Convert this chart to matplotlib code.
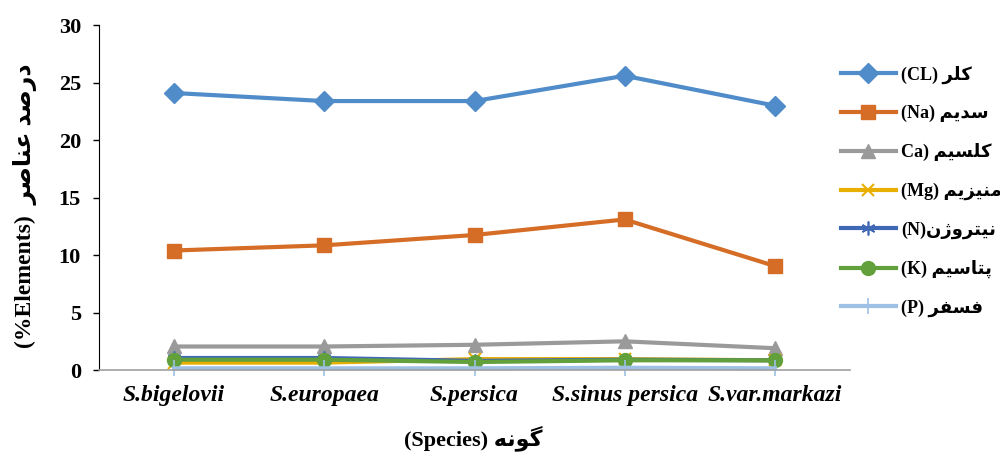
import numpy as np
import matplotlib
matplotlib.use('Agg')
import matplotlib.pyplot as plt

# data
species = ['S.bigelovii', 'S.europaea', 'S.persica', 'S.sinus persica', 'S.var.markazi']
cl = [24.1, 23.4, 23.4, 25.6, 23.0]
na = [10.4, 10.85, 11.75, 13.1, 9.05]
ca = [2.05, 2.05, 2.2, 2.5, 1.9]
mg = [0.65, 0.65, 0.95, 0.95, 0.85]
n = [1.05, 1.05, 0.8, 0.9, 0.85]
k = [0.9, 0.9, 0.7, 0.85, 0.85]
p = [0.15, 0.15, 0.15, 0.2, 0.15]

# minimal Persian shaping (matplotlib does no bidi/joining)
FORMS = {
    'ا': ('\uFE8D', '\uFE8E', None, None),
    'د': ('\uFEA9', '\uFEAA', None, None),
    'ر': ('\uFEAD', '\uFEAE', None, None),
    'ز': ('\uFEAF', '\uFEB0', None, None),
    'ژ': ('\uFB8A', '\uFB8B', None, None),
    'و': ('\uFEED', '\uFEEE', None, None),
    'ک': ('\uFB8E', '\uFB8F', '\uFB90', '\uFB91'),
    'گ': ('\uFB92', '\uFB93', '\uFB94', '\uFB95'),
    'ل': ('\uFEDD', '\uFEDE', '\uFEDF', '\uFEE0'),
    'س': ('\uFEB1', '\uFEB2', '\uFEB3', '\uFEB4'),
    'ی': ('\uFBFC', '\uFBFD', '\uFBFE', '\uFBFF'),
    'م': ('\uFEE1', '\uFEE2', '\uFEE3', '\uFEE4'),
    'ن': ('\uFEE5', '\uFEE6', '\uFEE7', '\uFEE8'),
    'ت': ('\uFE95', '\uFE96', '\uFE97', '\uFE98'),
    'پ': ('\uFB56', '\uFB57', '\uFB58', '\uFB59'),
    'ف': ('\uFED1', '\uFED2', '\uFED3', '\uFED4'),
    'ه': ('\uFEE9', '\uFEEA', '\uFEEB', '\uFEEC'),
    'ص': ('\uFEB9', '\uFEBA', '\uFEBB', '\uFEBC'),
    'ع': ('\uFEC9', '\uFECA', '\uFECB', '\uFECC'),
}


def fa(text):
    out = []
    for i, c in enumerate(text):
        if c not in FORMS:
            out.append(c)
            continue
        prev = text[i - 1] if i > 0 else None
        nxt = text[i + 1] if i + 1 < len(text) else None
        jp = prev in FORMS and FORMS[prev][2] is not None
        jn = nxt in FORMS and FORMS[c][2] is not None
        iso, fin, ini, med = FORMS[c]
        if jp and jn:
            out.append(med)
        elif jp:
            out.append(fin)
        elif jn:
            out.append(ini)
        else:
            out.append(iso)
    return ''.join(out)[::-1]


labels = ['(CL) ' + fa('کلر'), '(Na) ' + fa('سدیم'), 'Ca) ' + fa('کلسیم'),
          '(Mg) ' + fa('منیزیم'), '(N)' + fa('نیتروژن'), '(K) ' + fa('پتاسیم'),
          '(P) ' + fa('فسفر')]

FAM = ['Liberation Serif', 'DejaVu Sans']
plt.rcParams['font.family'] = FAM
plt.rcParams['font.weight'] = 'bold'

fig = plt.figure(figsize=(10, 4.58), dpi=100)
ax = fig.add_axes([0.099, 0.192, 0.751, 0.753])

x = np.arange(len(species))
series = [
    (cl, '#4F8CC9', 'D', 10, None),
    (na, '#D56D27', 's', 10, None),
    (ca, '#9A9A9A', '^', 10, None),
    (mg, '#E8AE00', 'x', 9, 1.5),
    (n, '#3F69B5', (6, 2, 0), 10, 1.2),
    (k, '#62A03C', 'o', 10, None),
    (p, '#9DC0E4', '|', 12, 1.2),
]
for (vals, col, mk, ms, mew), lab in zip(series, labels):
    kw = {}
    if mew is not None:
        kw['markeredgewidth'] = mew
    ax.plot(x, vals, color=col, lw=3, marker=mk, ms=ms, label=lab,
            clip_on=False, **kw)

ax.set_xlim(-0.5, 4.5)
ax.set_ylim(0, 30)
ax.set_yticks(range(0, 31, 5))
ax.set_xticks(x)
ax.set_xticklabels(species, fontsize=17, fontstyle='italic', fontweight='bold')
ax.tick_params(axis='y', labelsize=16, length=4, width=1, direction='out', pad=9)
ax.tick_params(axis='x', length=0, pad=11)
for spine in ['top', 'right']:
    ax.spines[spine].set_visible(False)
ax.spines['left'].set_color('black')
ax.spines['bottom'].set_color('#A0A0A0')
ax.spines['bottom'].set_linewidth(1.2)

fig.text(0.025, 0.55, '(%Elements)  ' + fa('درصد عناصر'), rotation=90,
         ha='center', va='center', fontsize=17, fontweight='bold')
fig.text(0.473, 0.044, '(Species) ' + fa('گونه'), ha='center', va='center',
         fontsize=16, fontweight='bold')

ax.legend(loc='upper left', bbox_to_anchor=(0.966, 0.93), frameon=False,
          fontsize=13, handlelength=3.05, labelspacing=1.17, handletextpad=0.28)

fig.savefig('out.png', dpi=100)
